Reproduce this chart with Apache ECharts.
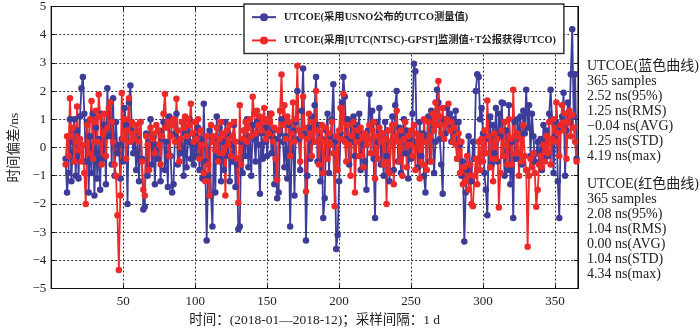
<!DOCTYPE html>
<html>
<head>
<meta charset="utf-8">
<script src="https://cdn.jsdelivr.net/npm/echarts@6/dist/echarts.min.js"></script>
<style>
  html, body { margin: 0; padding: 0; background: #fff; }
  #chart { width: 700px; height: 332px; }
</style>
</head>
<body>
<div id="chart"></div>
<script>
// Daily UTCOE deviation, 2018, first sample on day 10
const firstDay = 10;

const blueValues = [
  -0.4, -1.6, -0.9, 1.0, -1.2, 0.2, 1.0, -1.0, 0.6, -1.1,
  1.1, 2.1, 2.5, 1.2, -0.5, 0.9, -1.6, 0.4, -0.9, 1.2,
  -1.7, 0.7, -1.1, 0.3, -1.5, 1.2, -0.4, 0.8, -1.3, 2.1,
  0.4, 1.6, -0.6, 1.75, -1.0, 0.9, -0.2, 0.1, -1.1, 0.3,
  -0.5, 1.4, 0.8, -2.0, 1.6, 2.2, 0.6, -0.2, 0.5, -0.8,
  0.3, -1.2, 0.9, -0.4, -2.2, -2.1, 0.5, -1.0, 0.2, 1.0,
  -0.6, 0.4, -1.3, 0.1, -0.4, 0.6, -1.2, 0.3, 0.9, -0.8,
  0.2, -1.4, 1.1, -0.3, -1.6, -1.3, 0.5, 1.2, -0.6, 0.3,
  -0.2, 0.9, -1.0, 0.5, -0.7, 0.2, 1.0, -0.4, 0.1, -0.6,
  0.4, -0.3, 0.7, -0.8, 0.3, -1.1, 1.55, -0.5, -3.3, -1.0,
  0.6, -1.7, -2.8, 0.3, -1.6, 1.1, -0.4, 0.7, -1.2, 0.2,
  -0.8, 0.9, -0.3, 0.5, -1.2, 0.1, -0.5, 0.8, -1.4, -0.6,
  -2.9, -2.8, 0.2, -0.9, 0.6, -0.3, 1.0, -0.7, 0.4, -1.0,
  0.8, 0.3, -0.5, 0.9, 0.1, -1.64, 0.5, -0.4, 0.2, 0.7,
  -0.3, 0.4, 1.2, -0.2, 0.6, -1.3, 0.3, -1.8, -1.6, 0.5,
  1.0, 0.2, -0.7, 0.4, -1.1, 0.8, -2.8, -0.3, 0.6, -1.7,
  0.9, 2.0, 0.3, -0.8, 1.3, 2.8, 0.5, -3.3, -1.0, 0.7,
  -0.4, 1.1, 0.2, 1.5, 2.5, -0.5, 0.8, -1.2, 0.3, -2.5,
  -1.8, 0.6, 1.2, -0.9, 0.4, 1.0, 2.24, 0.2, -3.6, -3.1,
  -1.2, 0.5, 1.6, 2.5, 1.8, 0.3, 1.0, -0.6, 0.9, 0.2,
  1.1, -0.3, 0.8, 0.4, 1.2, -0.8, 0.5, 0.1, -0.5, -1.5,
  0.6, 1.9, 0.7, 1.3, -0.4, -2.5, 0.9, 0.2, 1.4, -0.6,
  0.5, -1.0, 0.9, -0.3, 0.6, -1.2, 0.2, 1.1, -0.8, 1.5,
  2.0, -0.5, 0.7, -0.9, 0.4, 1.0, -0.2, 0.6, -1.1, 0.3,
  -0.4, 1.2, 2.97, 2.7, 0.2, -0.7, 0.9, -0.3, 0.5, -1.0,
  -1.6, 0.4, 1.1, -0.5, 1.3, 0.6, -0.9, 0.2, 2.05, 1.6,
  0.3, -0.6, -1.64, 1.0, 0.5, 1.4, 0.8, 1.2, 0.2, 1.0,
  0.6, 1.3, -0.4, 0.9, 0.1, -1.0, -0.5, -3.33, -1.6, -0.8,
  0.4, -0.6, -1.2, 0.2, -0.4, 2.0, 2.6, 2.5, 1.0, 1.4,
  0.5, -0.9, -1.5, -2.4, 0.3, 1.1, -0.6, 0.8, -0.2, 1.4,
  -0.5, 1.2, 0.4, 1.6, 1.57, -1.0, 0.6, -0.8, 1.5, -1.3,
  0.2, -2.5, 0.9, -0.4, 1.0, 0.3, 1.1, -0.6, 1.3, 0.5,
  2.05, 0.7, 1.5, -0.3, 1.2, 0.4, -0.5, -0.2, 0.2, -0.6,
  0.3, -0.8, 0.8, -0.4, 0.6, -0.3, 1.2, 2.05, 1.0, -0.9,
  0.4, 0.9, -1.2, -2.5, 0.7, 1.1, 1.94, -1.0, 0.6, 1.6,
  0.9, 2.6, 4.19, 1.1, 2.6, -0.4
];

const redValues = [
  -0.6, 0.4, -0.3, 1.75, 0.4, 0.7, -0.5, 0.2, 1.45, -0.1,
  0.3, -0.5, 0.1, -0.9, -2.0, 0.8, -0.2, 1.0, 1.65, -0.4,
  0.9, 1.3, 0.2, 1.88, 1.1, -0.6, 0.5, 1.2, -0.3, 0.7,
  1.4, 1.6, 0.9, 0.2, -0.6, -1.0, -2.4, -4.34, -1.7, 1.93,
  0.3, 1.0, -0.4, 0.6, 1.75, 0.2, 0.9, 0.5, 0.3, 0.8,
  0.6, 0.2, 0.9, -0.5, -1.5, -1.7, 0.4, 0.1, -0.8, 0.7,
  0.3, 0.5, -0.2, 0.8, 0.6, 0.1, -0.6, 0.4, 1.2, 1.9,
  0.7, 0.9, -0.3, 0.4, 0.8, 1.0, 0.2, 1.73, 0.6, -0.5,
  0.3, 0.9, 0.7, 1.1, 0.4, 1.0, 0.8, 1.55, 0.5, 0.2,
  0.9, 0.3, 1.0, -0.4, 0.6, 0.1, -0.9, -1.2, 0.4, -0.6,
  -1.7, 0.8, 0.2, 0.4, -0.1, 0.7, -0.5, 0.3, 0.9, -0.2,
  0.5, -1.7, 0.6, 0.1, 0.8, -0.3, 0.4, 0.9, 0.2, -0.4,
  -1.96, 1.5, -0.6, 0.3, 0.6, 0.9, 0.2, 0.7, 1.0, 0.4,
  1.8, 1.2, 0.5, 1.3, 0.8, 1.1, 0.6, 0.9, 1.4, 0.3,
  1.0, 0.5, 0.9, 1.2, 0.2, 0.7, -0.4, -1.15, 0.6, 1.3,
  2.59, 0.8, 1.5, 0.3, 1.1, 0.9, -0.3, 0.5, 1.6, 0.2,
  1.0, 2.9, 0.6, -0.5, 0.4, 1.8, 0.7, -1.56, 0.3, 1.2,
  0.5, -0.3, 0.9, 0.2, 2.0, 0.6, -0.6, 0.3, 0.8, -0.9,
  0.2, 0.7, -0.4, 0.5, 0.1, 0.9, -0.2, -2.08, 0.4, -0.8,
  0.6, 1.4, 0.3, 1.9, 0.2, -0.5, 0.8, 0.1, -1.0, 0.4,
  0.9, -1.6, 0.2, 0.6, -0.3, 0.7, 0.4, -0.7, 0.5, 0.1,
  0.3, 0.8, -0.2, 0.6, 0.9, -1.1, 0.4, -0.4, 0.7, 0.2,
  0.5, -0.6, 0.3, -2.0, 0.6, -0.9, 0.2, 0.8, -1.3, 0.4,
  1.3, 0.2, -0.5, 0.6, -1.0, 0.3, 0.9, -0.7, 0.4, 0.1,
  0.6, -0.3, 0.8, -0.8, 0.5, 0.2, -1.1, 0.4, -0.6, 1.0,
  0.2, -0.8, 0.9, 0.4, -0.5, 1.2, 0.6, 1.6, 0.8, 2.36,
  1.1, 0.5, 1.4, 0.3, 0.8, 1.0, 1.55, 0.6, 0.9, 0.2,
  0.7, 0.1, -0.4, 0.5, -0.9, 0.2, -1.3, -0.7, -1.2, -0.3,
  -1.5, -0.6, -2.0, -2.08, -1.0, -0.4, -1.3, 0.2, -0.8, 0.3,
  -0.5, 0.6, -0.2, 1.67, 0.4, -0.7, 0.2, -1.2, 0.5, -0.4,
  0.3, -2.13, -0.9, 0.6, -0.3, 0.9, 0.1, -0.6, 1.0, 0.3,
  -0.6, 2.05, 0.4, -0.2, 0.5, -1.0, 0.3, -0.5, 0.8, -0.3,
  -0.8, -3.52, -1.0, -0.4, -0.7, -0.2, -0.9, -2.1, -1.5, -0.6,
  -0.3, -0.7, 0.1, -0.5, 0.4, -0.2, 0.9, -0.6, 0.3, 1.0,
  0.2, 1.6, 0.5, -0.3, 0.8, 1.5, 0.6, 1.2, -0.4, 0.9,
  1.3, 0.4, 1.15, 0.7, 0.2, -0.5
];

const seriesNames = [
  'UTCOE(采用USNO公布的UTCO测量值)',
  'UTCOE(采用[UTC(NTSC)-GPST]监测值+T公报获得UTCO)'
];

const xTicks = [50, 100, 150, 200, 250, 300, 350];
const yTicks = [-5, -4, -3, -2, -1, 0, 1, 2, 3, 4, 5];

const blueStats = ['UTCOE(蓝色曲线)', '365 samples', '2.52 ns(95%)', '1.25 ns(RMS)', '−0.04 ns(AVG)', '1.25 ns(STD)', '4.19 ns(max)'];
const redStats  = ['UTCOE(红色曲线)', '365 samples', '2.08 ns(95%)', '1.04 ns(RMS)', '0.00 ns(AVG)', '1.04 ns(STD)', '4.34 ns(max)'];

const serif = '"Liberation Serif", "Times New Roman", "Noto Sans CJK SC", serif';
const cjk = '"Liberation Serif", "Noto Sans CJK SC", serif';

function toPairs(values) {
  return values.map((v, i) => [firstDay + i, v]);
}

function fmtY(v) {
  return v < 0 ? '\u2212' + Math.abs(v) : String(v);
}

const chart = echarts.init(document.getElementById('chart'), null, { renderer: 'canvas' });

const gridDash = { type: [2, 2], color: '#333', width: 1 };

chart.setOption({
  animation: false,
  backgroundColor: '#fff',
  grid: {
    left: 44, right: 122, top: 4, bottom: 41,
    show: true, borderColor: '#111', borderWidth: 1.2, backgroundColor: 'transparent'
  },
  legend: {
    orient: 'vertical',
    left: 244, top: 4,
    backgroundColor: '#fff',
    borderColor: '#333', borderWidth: 1.5,
    padding: [8, 8, 8, 7],
    itemWidth: 24, itemHeight: 10, itemGap: 13,
    textStyle: { fontFamily: cjk, fontSize: 10.3, fontWeight: 'bold', color: '#222', padding: [0, 0, 0, 3] },
    data: seriesNames
  },
  xAxis: [{
    type: 'value',
    min: 0, max: 366, interval: 50,
    name: '时间：(2018-01—2018-12)；采样间隔：1 d',
    nameLocation: 'middle', nameGap: 25,
    nameTextStyle: { fontFamily: cjk, fontSize: 13.5, color: '#222' },
    axisLine: { show: true, onZero: false, lineStyle: { color: '#111' } },
    axisTick: { show: true, inside: true, length: 4, lineStyle: { color: '#111' } },
    axisLabel: {
      fontFamily: serif, fontSize: 13, color: '#222', margin: 7,
      formatter: v => (xTicks.indexOf(v) >= 0 ? String(v) : '')
    },
    splitLine: { show: true, lineStyle: gridDash }
  }, {
    type: 'value', position: 'top',
    min: 0, max: 366, interval: 50,
    axisLine: { show: true, onZero: false, lineStyle: { color: '#111' } },
    axisTick: { show: true, inside: true, length: 4, lineStyle: { color: '#111' } },
    axisLabel: { show: false },
    splitLine: { show: false }
  }],
  yAxis: [{
    type: 'value',
    min: yTicks[0], max: yTicks[yTicks.length - 1], interval: 1,
    name: '时间偏差/ns',
    nameLocation: 'middle', nameGap: 29, nameRotate: 90,
    nameTextStyle: { fontFamily: cjk, fontSize: 13.5, color: '#222' },
    axisLine: { show: true, onZero: false, lineStyle: { color: '#111' } },
    axisTick: { show: true, inside: true, length: 4, lineStyle: { color: '#111' } },
    axisLabel: { fontFamily: serif, fontSize: 13, color: '#222', margin: 5, formatter: fmtY },
    splitLine: { show: true, lineStyle: gridDash }
  }, {
    type: 'value', position: 'right',
    min: yTicks[0], max: yTicks[yTicks.length - 1], interval: 1,
    axisLine: { show: true, onZero: false, lineStyle: { color: '#111' } },
    axisTick: { show: true, inside: true, length: 4, lineStyle: { color: '#111' } },
    axisLabel: { show: false },
    splitLine: { show: false }
  }],
  series: [{
    name: seriesNames[0],
    type: 'line',
    data: toPairs(blueValues),
    symbol: 'circle', symbolSize: 6.5,
    color: '#3d3d99',
    lineStyle: { width: 1.8, color: '#3d3d99' },
    itemStyle: { color: '#3d3d99' }
  }, {
    name: seriesNames[1],
    type: 'line',
    data: toPairs(redValues),
    symbol: 'circle', symbolSize: 6.5,
    color: '#ec2a2a',
    lineStyle: { width: 1.8, color: '#ec2a2a' },
    itemStyle: { color: '#ec2a2a' }
  }],
  graphic: [{
    type: 'text', left: 587, top: 59,
    style: { text: blueStats.join('\n'), fontFamily: cjk, fontSize: 14, lineHeight: 15, fill: '#222' }
  }, {
    type: 'text', left: 587, top: 177,
    style: { text: redStats.join('\n'), fontFamily: cjk, fontSize: 14, lineHeight: 15, fill: '#222' }
  }]
});
</script>
</body>
</html>
